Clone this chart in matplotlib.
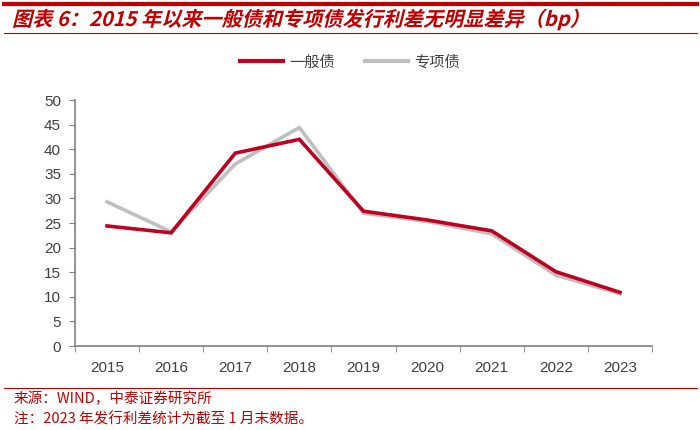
import matplotlib
matplotlib.use("Agg")
import matplotlib.pyplot as plt
from matplotlib.lines import Line2D
from matplotlib.textpath import TextPath
from matplotlib.patches import PathPatch
from matplotlib.font_manager import FontProperties
from matplotlib.transforms import Affine2D

plt.rcParams['font.family'] = ['Noto Sans CJK SC', 'DejaVu Sans']

years = ['2015', '2016', '2017', '2018', '2019', '2020', '2021', '2022', '2023']
general = [24.4, 23.0, 39.2, 42.0, 27.4, 25.6, 23.4, 15.1, 10.9]
special = [29.3, 23.2, 37.0, 44.4, 27.0, 25.3, 22.8, 14.4, 10.6]
series_names = ['一般债', '专项债']
title = '图表 6：2015 年以来一般债和专项债发行利差无明显差异（bp）'
source = '来源：WIND，中泰证券研究所'
note = '注：2023 年发行利差统计为截至 1 月末数据。'

red = '#C00021'
grey = '#BFBFBF'
text_red = '#C00000'

fig = plt.figure(figsize=(7, 4.3), dpi=100)
ax = fig.add_axes([75 / 700, 1 - 346 / 430, 577 / 700, 246 / 430])

x = list(range(len(years)))
ax.plot(x, special, color=grey, lw=2.6, solid_joinstyle='miter', zorder=2)
ax.plot(x, general, color=red, lw=2.6, solid_joinstyle='miter', zorder=3)

ax.set_xlim(-0.5, len(years) - 0.5)
ax.set_ylim(0, 50)
ax.set_yticks(range(0, 51, 5))
ax.set_xticks(x)
ax.set_xticklabels(years)
ax.set_xticks([i - 0.5 for i in range(len(years) + 1)], minor=True)
ax.tick_params(axis='x', which='major', length=0, pad=11)
ax.tick_params(axis='x', which='minor', length=4, color='#808080', direction='out')
ax.tick_params(axis='y', length=4, color='#808080', direction='out', pad=6)
ax.tick_params(labelsize=11, labelcolor='#404040')
for lab in ax.get_xticklabels() + ax.get_yticklabels():
    lab.set_family(['Liberation Sans', 'DejaVu Sans'])
for s in ['top', 'right']:
    ax.spines[s].set_visible(False)
for s in ['left', 'bottom']:
    ax.spines[s].set_color('#808080')
    ax.spines[s].set_linewidth(1.2)

handles = [Line2D([], [], color=red, lw=3), Line2D([], [], color=grey, lw=3)]
fig.legend(handles, series_names, loc='center', bbox_to_anchor=(0.5, 1 - 62 / 430),
           ncol=2, frameon=False, fontsize=11, handlelength=2.8, columnspacing=2.0,
           handletextpad=0.4, labelcolor='#404040')

# header / footer rules
fig.add_artist(Line2D([0.005, 0.995], [1 - 4 / 430, 1 - 4 / 430], color=text_red, lw=3))
fig.add_artist(Line2D([0.005, 0.995], [1 - 33 / 430, 1 - 33 / 430], color=text_red, lw=0.8))
fig.add_artist(Line2D([0.005, 0.995], [1 - 388 / 430, 1 - 388 / 430], color=text_red, lw=0.8))

# title drawn as a skewed text path to get the bold italic look
tp = TextPath((0, 0), title, size=14.5 * 100 / 72,
              prop=FontProperties(family=['Noto Sans CJK SC', 'DejaVu Sans'], weight='bold'))
skew = Affine2D().skew_deg(14, 0).translate(12, 430 - 26)
fig.add_artist(PathPatch(tp, transform=skew, facecolor=text_red, edgecolor='none'))

fig.text(14 / 700, 1 - 399 / 430, source, color=text_red, fontsize=10.5, va='center')
fig.text(14 / 700, 1 - 419 / 430, note, color=text_red, fontsize=10.5, va='center')

fig.savefig('out.png', dpi=100)
